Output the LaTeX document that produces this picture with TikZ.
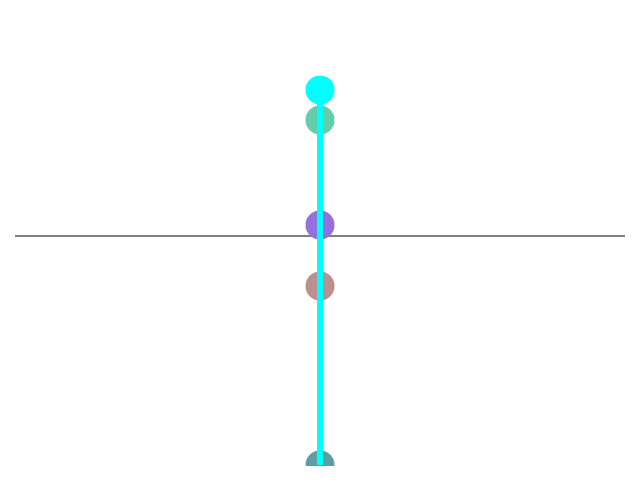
\documentclass[tikz,border=0pt]{standalone}
\begin{document}
\begin{tikzpicture}[x=1pt,y=-1pt,
  dot/.style={circle,inner sep=0pt,minimum size=29pt,draw=none},
  axisline/.style={draw={rgb,255:red,128;green,128;blue,128},line width=2pt},
  stem/.style={draw={rgb,255:red,0;green,255;blue,255},line width=6pt}]
\useasboundingbox[fill=white] (0,0) rectangle (640,480);
\coordinate (L) at (15,236);
\coordinate (R) at (625,236);
\draw[axisline] (L) -- (R);
\node[dot,fill={rgb,255:red,102;green,205;blue,170}] (g) at (320,120) {};
\node[dot,fill={rgb,255:red,147;green,112;blue,219}] (p) at (320,225) {};
\node[dot,fill={rgb,255:red,188;green,143;blue,143}] (b) at (320,286) {};
\begin{scope}
\clip (0,0) rectangle (640,465);
\node[dot,fill={rgb,255:red,95;green,158;blue,160}] (t) at (320,465) {};
\end{scope}
\node[dot,fill={rgb,255:red,0;green,255;blue,255}] (c) at (320,90) {};
\draw[stem] (c.center) -- (t.center);
\end{tikzpicture}
\end{document}
